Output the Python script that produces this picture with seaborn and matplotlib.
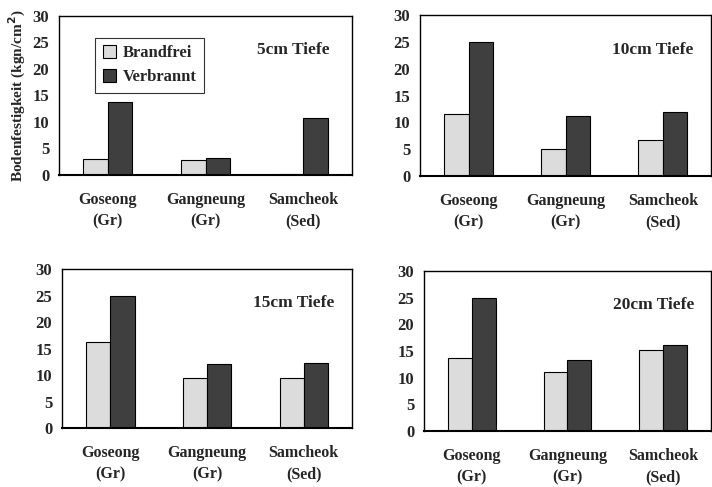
import numpy as np
import matplotlib
matplotlib.use("Agg")
import matplotlib.pyplot as plt
import pandas as pd
import seaborn as sns

sites = ["Goseong\n(Gr)", "Gangneung\n(Gr)", "Samcheok\n(Sed)"]
groups = ["Brandfrei", "Verbrannt"]
depths = ["5cm Tiefe", "10cm Tiefe", "15cm Tiefe", "20cm Tiefe"]

brandfrei = [
    [3.0, 2.9, 0.2],
    [11.5, 5.0, 6.8],
    [16.3, 9.5, 9.5],
    [13.7, 11.0, 15.1],
]
verbrannt = [
    [13.7, 3.2, 10.7],
    [25.0, 11.1, 11.9],
    [25.0, 12.0, 12.2],
    [25.0, 13.4, 16.2],
]

sns.set_style("white")
plt.rcParams['font.family'] = ['Liberation Serif', 'DejaVu Serif']
plt.rcParams['font.weight'] = 'bold'

colors = {"Brandfrei": "#dcdcdc", "Verbrannt": "#3f3f3f"}

fig = plt.figure(figsize=(7.12, 4.87), dpi=100)
positions = [
    [0.0829, 0.6407, 0.4115, 0.3265],
    [0.5900, 0.6386, 0.4090, 0.3306],
    [0.0871, 0.1211, 0.4073, 0.3265],
    [0.5955, 0.1150, 0.4030, 0.3285],
]

for i, depth in enumerate(depths):
    df = pd.DataFrame({
        "site": sites * 2,
        "group": [groups[0]] * 3 + [groups[1]] * 3,
        "value": brandfrei[i] + verbrannt[i],
    })
    ax = fig.add_axes(positions[i])
    sns.barplot(data=df, x="site", y="value", hue="group", palette=colors,
                width=0.5, edgecolor="black", linewidth=0.8, ax=ax,
                legend=(i == 0))
    ax.set_ylim(0, 30)
    ax.set_xlim(-0.5, 2.5)
    ax.set_yticks(range(0, 31, 5))
    ax.set_xlabel("")
    ax.set_ylabel("")
    for s in ax.spines.values():
        s.set_color("black")
        s.set_linewidth(1.0)
    ax.spines["bottom"].set_linewidth(1.5)
    ax.tick_params(axis="y", length=0, pad=7, labelsize=12)
    ax.tick_params(axis="x", length=0, pad=12, labelsize=11.5)
    ax.set_xticks([0.5, 1.5], minor=True)
    ax.tick_params(axis="x", which="minor", direction="in", length=4, width=1.2, color="black")
    for lab in ax.get_xticklabels():
        lab.set_fontweight("bold")
        lab.set_linespacing(1.5)
    for lab in ax.get_yticklabels():
        lab.set_fontweight("bold")
    ax.text(0.80, 0.785, depth, transform=ax.transAxes, ha="center", va="center",
            fontsize=12.5, fontweight="bold")
    if i == 0:
        ax.set_ylabel("Bodenfestigkeit (kgn/cm$^2$)", fontsize=11, fontweight="bold", labelpad=3)
        leg = ax.legend(loc="upper left", bbox_to_anchor=(0.095, 0.915), frameon=True,
                        fancybox=False, edgecolor="black", handlelength=0.8, handleheight=0.8,
                        handletextpad=0.4, borderpad=0.45, labelspacing=0.45,
                        prop={"size": 12, "weight": "bold"})
        leg.get_frame().set_linewidth(0.8)

fig.savefig("out.png", dpi=100)
